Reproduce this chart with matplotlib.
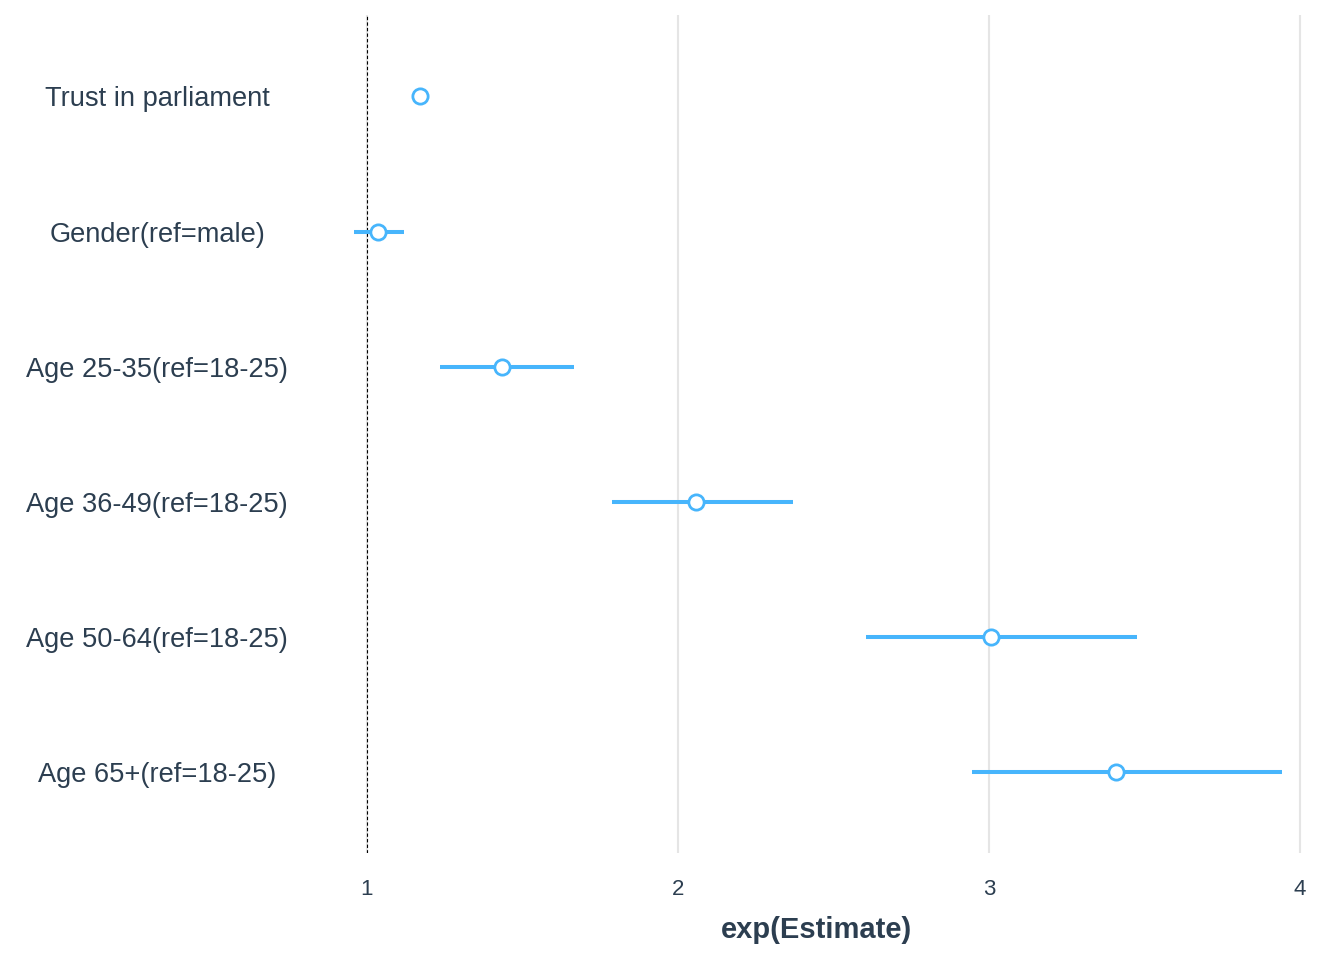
import matplotlib
matplotlib.use("Agg")
import matplotlib.pyplot as plt

plt.rcParams['font.family'] = ['Liberation Sans', 'DejaVu Sans']

# values
terms = ["Trust in parliament", "Gender(ref=male)", "Age 25-35(ref=18-25)",
         "Age 36-49(ref=18-25)", "Age 50-64(ref=18-25)", "Age 65+(ref=18-25)"]
estimate = [1.17, 1.035, 1.434, 2.058, 3.006, 3.408]
conf_low = [1.15, 0.958, 1.235, 1.788, 2.605, 2.945]
conf_high = [1.19, 1.119, 1.666, 2.370, 3.476, 3.942]
xticks = [1, 2, 3, 4]

blue = "#47b5fc"
text_col = "#2c3e50"

fig = plt.figure(figsize=(13.44, 9.6), dpi=100)
ax = fig.add_axes([324/1344, 0.1115, (1310-324)/1344, 0.8725])

ypos = list(range(len(terms)))
ax.hlines(ypos, conf_low, conf_high, color=blue, linewidth=2.9, zorder=3)
ax.plot(estimate, ypos, linestyle="none", marker="o", markersize=11,
        markerfacecolor="white", markeredgecolor=blue, markeredgewidth=2, zorder=4)
ax.axvline(1, color="black", linestyle=(0, (3, 2)), linewidth=0.8, zorder=2)

ax.set_xlim(0.862, 4.032)
ax.set_ylim(5.6, -0.6)
ax.set_xticks(xticks)
ax.set_xticklabels([str(t) for t in xticks])
ax.grid(axis="x", color="#e5e5e5", linewidth=1.5, zorder=0)
ax.set_axisbelow(True)
for s in ax.spines.values():
    s.set_visible(False)

ax.set_yticks(ypos)
ax.set_yticklabels(terms, ha="center", fontsize=19.6, color=text_col)
ax.tick_params(axis="y", length=0, pad=120)
ax.tick_params(axis="x", length=0, pad=18.5, labelsize=16, labelcolor=text_col)
ax.set_xlabel("exp(Estimate)", fontsize=21, fontweight="bold", color=text_col, labelpad=12)

fig.savefig("out.png", dpi=100, facecolor="white")
